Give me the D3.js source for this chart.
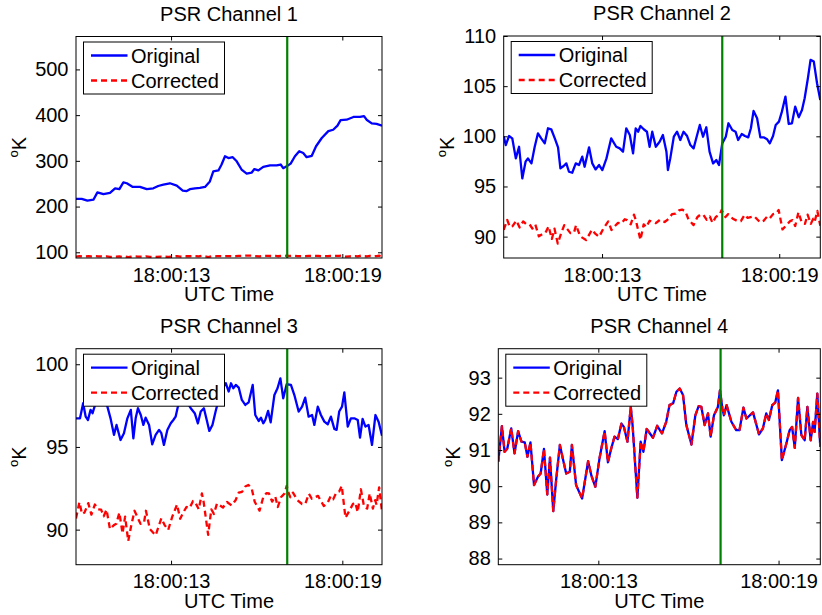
<!DOCTYPE html>
<html>
<head>
<meta charset="utf-8">
<script src="https://cdn.jsdelivr.net/npm/d3@7"></script>
<style>
  body { margin: 0; background: #fff; }
  svg { display: block; font-family: "Liberation Sans", Arial, Helvetica, sans-serif; }
</style>
</head>
<body>
<svg width="822" height="615"></svg>
<script>
// seconds after 18:00:00 UTC, brightness temperature in K
const titles = ["PSR Channel 1", "PSR Channel 2", "PSR Channel 3", "PSR Channel 4"];
const timeRange = [9.67, 20.39];
const timeTicks = [13, 19];
const markerTime = 17.07;
const yDomains = [[87.5, 572], [87.87, 110], [87.88, 100.94], [87.83, 93.8]];
const yTicks = [
  [100, 200, 300, 400, 500],
  [90, 95, 100, 105, 110],
  [90, 95, 100],
  [88, 89, 90, 91, 92, 93]
];

const ch1Original = [
  [9.67, 217], [9.87, 217], [10.07, 213], [10.28, 215], [10.42, 231], [10.63, 227],
  [10.86, 230], [11.04, 240], [11.19, 238], [11.33, 253], [11.45, 251], [11.66, 243],
  [11.91, 243], [12.15, 238], [12.38, 240], [12.55, 245], [12.73, 248], [12.96, 251],
  [13.2, 246], [13.41, 235], [13.55, 234], [13.66, 238], [13.84, 240], [14.01, 241],
  [14.19, 243], [14.36, 255], [14.48, 277], [14.66, 279], [14.77, 292], [14.89, 310],
  [15.01, 306], [15.16, 308], [15.3, 299], [15.47, 281], [15.65, 272], [15.82, 274],
  [15.92, 282], [16.06, 279], [16.23, 287], [16.47, 290], [16.7, 290], [16.84, 292],
  [16.93, 284], [17.05, 288], [17.19, 294], [17.34, 310], [17.49, 321], [17.63, 317],
  [17.75, 308], [17.93, 311], [18.08, 332], [18.28, 350], [18.51, 365], [18.68, 368],
  [18.83, 377], [18.94, 389], [19.15, 390], [19.39, 396], [19.62, 396], [19.76, 398],
  [19.85, 390], [20.03, 382], [20.2, 381], [20.39, 377]
];

const ch2Original = [
  [9.67, 100.0], [9.74, 99.13], [9.85, 100.03], [9.96, 99.8], [10.08, 97.8], [10.19, 98.96],
  [10.3, 95.8], [10.41, 97.47], [10.49, 97.8], [10.61, 97.3], [10.72, 98.96], [10.83, 100.3],
  [10.94, 99.8], [11.06, 99.3], [11.17, 100.8], [11.28, 100.7], [11.4, 99.8], [11.51, 98.9],
  [11.59, 96.8], [11.7, 97.04], [11.79, 97.3], [11.88, 96.47], [11.99, 96.37], [12.11, 97.3],
  [12.22, 97.14], [12.33, 97.97], [12.41, 96.97], [12.56, 98.9], [12.67, 97.3], [12.78, 96.7],
  [12.9, 97.14], [13.01, 96.64], [13.15, 97.8], [13.31, 99.8], [13.48, 98.96], [13.6, 98.8],
  [13.71, 98.47], [13.82, 100.8], [13.94, 100.13], [14.05, 98.3], [14.14, 100.8], [14.22, 100.46],
  [14.3, 101.03], [14.41, 100.7], [14.52, 100.46], [14.61, 98.96], [14.7, 100.46], [14.82, 98.96],
  [14.95, 99.46], [15.06, 100.13], [15.18, 98.47], [15.23, 96.64], [15.31, 97.8], [15.43, 99.96],
  [15.54, 100.46], [15.65, 99.63], [15.76, 100.46], [15.88, 100.03], [15.99, 99.13], [16.1, 98.8],
  [16.19, 99.8], [16.31, 101.13], [16.42, 99.96], [16.53, 100.9], [16.64, 98.47], [16.76, 97.3],
  [16.87, 97.63], [16.96, 97.14], [17.07, 99.3], [17.19, 99.96], [17.28, 101.3], [17.41, 100.63],
  [17.52, 100.46], [17.61, 99.63], [17.73, 100.23], [17.84, 100.03], [17.95, 99.9], [18.04, 100.8],
  [18.13, 102.53], [18.25, 101.8], [18.36, 99.9], [18.47, 99.9], [18.59, 99.7], [18.68, 99.3],
  [18.79, 100.03], [18.88, 101.13], [18.99, 101.46], [19.09, 102.46], [19.21, 103.96], [19.32, 101.23],
  [19.43, 101.3], [19.54, 102.96], [19.66, 101.9], [19.77, 102.63], [19.86, 103.79], [19.97, 105.79],
  [20.06, 107.62], [20.17, 107.45], [20.28, 105.29], [20.39, 103.62]
];

const ch3Original = [
  [9.67, 96.73], [9.81, 96.73], [9.92, 97.64], [10.01, 96.83], [10.09, 96.63], [10.18, 97.24],
  [10.25, 97.04], [10.32, 97.44], [10.44, 98.14], [10.59, 97.94], [10.77, 97.44], [10.88, 96.73],
  [11.0, 95.73], [11.09, 96.33], [11.23, 95.42], [11.35, 95.83], [11.47, 96.73], [11.59, 97.24],
  [11.68, 95.52], [11.76, 96.73], [11.84, 97.34], [11.94, 96.93], [12.03, 96.33], [12.11, 96.77],
  [12.23, 96.33], [12.34, 95.16], [12.46, 95.73], [12.58, 96.03], [12.66, 95.83], [12.75, 95.12],
  [12.87, 96.03], [12.99, 96.43], [13.08, 96.63], [13.16, 96.83], [13.24, 97.44], [13.36, 97.94],
  [13.51, 97.84], [13.69, 97.34], [13.83, 97.04], [13.94, 96.43], [14.04, 97.14], [14.15, 97.34],
  [14.25, 96.63], [14.34, 95.97], [14.45, 96.33], [14.56, 97.14], [14.68, 97.94], [14.8, 98.55],
  [14.92, 98.85], [15.02, 98.35], [15.1, 98.85], [15.18, 98.55], [15.27, 98.75], [15.37, 98.59],
  [15.48, 97.84], [15.6, 97.54], [15.72, 97.7], [15.86, 98.75], [15.95, 96.93], [16.07, 96.57],
  [16.15, 96.77], [16.23, 96.43], [16.3, 96.63], [16.4, 97.18], [16.49, 96.49], [16.62, 98.14],
  [16.73, 98.55], [16.83, 99.15], [16.93, 97.94], [17.05, 98.79], [17.2, 98.75], [17.32, 98.14],
  [17.47, 97.14], [17.59, 97.44], [17.7, 97.98], [17.82, 96.83], [17.94, 96.93], [18.02, 96.33],
  [18.14, 97.44], [18.25, 96.93], [18.37, 96.53], [18.49, 96.37], [18.6, 96.83], [18.72, 96.09],
  [18.8, 96.03], [18.89, 97.14], [18.99, 97.44], [19.07, 98.3], [19.19, 96.23], [19.3, 96.73],
  [19.42, 96.73], [19.54, 96.63], [19.62, 95.56], [19.71, 96.69], [19.81, 96.23], [19.92, 96.33],
  [20.04, 95.12], [20.16, 96.93], [20.27, 96.53], [20.39, 95.68]
];

// corrected temperature (same record drawn in every panel)
const corrected = [
  [9.67, 90.68], [9.79, 91.66], [9.88, 90.95], [9.97, 91.04], [10.1, 91.6], [10.21, 90.91],
  [10.33, 91.52], [10.44, 91.23], [10.55, 91.21], [10.64, 90.81], [10.74, 91.21], [10.86, 90.03],
  [10.99, 90.26], [11.08, 90.35], [11.19, 91.03], [11.3, 89.77], [11.39, 90.79], [11.5, 89.31],
  [11.6, 90.21], [11.72, 91.14], [11.83, 90.72], [11.93, 90.35], [12.05, 90.4], [12.12, 91.14],
  [12.26, 90.03], [12.46, 89.66], [12.66, 90.69], [12.77, 90.29], [12.9, 89.98], [13.04, 90.77],
  [13.21, 91.52], [13.32, 90.66], [13.43, 91.04], [13.54, 91.37], [13.65, 91.3], [13.77, 91.73],
  [13.85, 91.64], [13.97, 91.23], [14.08, 92.19], [14.14, 91.69], [14.3, 89.68], [14.41, 91.23],
  [14.5, 90.95], [14.61, 91.58], [14.82, 91.34], [14.96, 91.67], [15.12, 91.46], [15.26, 91.78],
  [15.37, 92.24], [15.49, 92.29], [15.6, 92.61], [15.71, 92.7], [15.82, 92.52], [15.93, 91.69],
  [16.1, 91.15], [16.23, 91.96], [16.34, 92.21], [16.43, 92.19], [16.54, 91.69], [16.65, 92.01],
  [16.74, 91.37], [16.85, 91.96], [16.98, 92.19], [17.05, 92.65], [17.13, 92.15], [17.18, 91.96],
  [17.27, 92.24], [17.43, 91.78], [17.59, 91.55], [17.7, 91.55], [17.83, 92.17], [17.93, 91.87],
  [18.15, 92.04], [18.35, 91.43], [18.48, 91.6], [18.59, 92.01], [18.68, 91.83], [18.79, 92.24],
  [18.89, 92.31], [18.98, 92.65], [19.11, 90.72], [19.26, 91.18], [19.37, 91.55], [19.45, 91.64],
  [19.54, 91.06], [19.65, 92.44], [19.76, 91.41], [19.87, 91.27], [19.96, 92.19], [20.07, 91.27],
  [20.15, 91.78], [20.2, 91.5], [20.29, 92.56], [20.39, 91.09]
];
const ch4Original = corrected;

const originals = [ch1Original, ch2Original, ch3Original, ch4Original];

const fontSize = 20;
const tickLen = 4;
const svg = d3.select("svg");

// axes boxes in page pixels
const boxes = [
  { left: 76, top: 36.5, right: 382, bottom: 258 },
  { left: 503.7, top: 36, right: 820.3, bottom: 258 },
  { left: 76, top: 348.7, right: 382, bottom: 564.7 },
  { left: 498.3, top: 348.7, right: 820.3, bottom: 564.7 }
];

const base = Date.UTC(2012, 0, 1, 18, 0, 0);
const toDate = (s) => new Date(base + s * 1000);
const fmtTime = d3.utcFormat("%H:%M:%S");

boxes.forEach((b, i) => {
  const w = b.right - b.left;
  const h = b.bottom - b.top;
  const x = d3.scaleUtc().domain(timeRange.map(toDate)).range([0, w]);
  const y = d3.scaleLinear().domain(yDomains[i]).range([h, 0]);

  const g = svg.append("g").attr("transform", `translate(${b.left},${b.top})`);

  g.append("clipPath")
    .attr("id", "clip" + i)
    .append("rect")
    .attr("width", w)
    .attr("height", h);

  const line = d3
    .line()
    .x((d) => x(toDate(d[0])))
    .y((d) => y(d[1]));

  const plot = g.append("g").attr("clip-path", `url(#clip${i})`);

  plot
    .append("path")
    .datum(originals[i])
    .attr("d", line)
    .attr("fill", "none")
    .attr("stroke", "#0000ff")
    .attr("stroke-width", 2.3)
    .attr("stroke-linejoin", "round");

  plot
    .append("path")
    .datum(corrected)
    .attr("d", line)
    .attr("fill", "none")
    .attr("stroke", "#ff0000")
    .attr("stroke-width", 2.3)
    .attr("stroke-dasharray", "6,4")
    .attr("stroke-linejoin", "round");

  plot
    .append("line")
    .attr("x1", x(toDate(markerTime)))
    .attr("x2", x(toDate(markerTime)))
    .attr("y1", 0)
    .attr("y2", h)
    .attr("stroke", "#008000")
    .attr("stroke-width", 2.2);

  // axes, ticks pointing inwards and mirrored on the far sides
  const xVals = timeTicks.map(toDate);

  const xAxis = g
    .append("g")
    .attr("transform", `translate(0,${h})`)
    .call(d3.axisBottom(x).tickValues(xVals).tickFormat(fmtTime).tickSize(-tickLen).tickSizeOuter(0));
  xAxis.selectAll("text").attr("dy", null).attr("y", 23.7);

  g.append("g")
    .call(d3.axisTop(x).tickValues(xVals).tickFormat("").tickSize(-tickLen).tickSizeOuter(0));

  const yAxis = g
    .append("g")
    .call(
      d3.axisLeft(y)
        .tickValues(yTicks[i])
        .tickFormat(d3.format("d"))
        .tickSize(-tickLen)
        .tickSizeOuter(0)
        .tickPadding(7.5)
    );

  g.append("g")
    .attr("transform", `translate(${w},0)`)
    .call(d3.axisRight(y).tickValues(yTicks[i]).tickFormat("").tickSize(-tickLen).tickSizeOuter(0));

  g.selectAll(".domain").remove();
  g.selectAll(".tick line").attr("stroke", "#000").attr("stroke-width", 1);
  g.selectAll(".tick text")
    .attr("fill", "#000")
    .attr("font-size", fontSize)
    .attr("font-family", "Liberation Sans, Arial, Helvetica, sans-serif");

  g.append("rect")
    .attr("width", w)
    .attr("height", h)
    .attr("fill", "none")
    .attr("stroke", "#000")
    .attr("stroke-width", 1);

  // title and labels
  g.append("text")
    .attr("x", w / 2)
    .attr("y", -16)
    .attr("text-anchor", "middle")
    .attr("font-size", fontSize)
    .text(titles[i]);

  g.append("text")
    .attr("x", w / 2)
    .attr("y", h + 43)
    .attr("text-anchor", "middle")
    .attr("font-size", fontSize)
    .text("UTC Time");

  let labelW = 0;
  yAxis.selectAll("text").each(function () {
    labelW = Math.max(labelW, this.getBBox().width);
  });
  const yl = g
    .append("text")
    .attr("transform", `translate(${-(7.5 + labelW + 9)},${h / 2}) rotate(-90)`)
    .attr("text-anchor", "middle")
    .attr("font-size", fontSize);
  yl.append("tspan").attr("font-size", 13).attr("dy", -8).text("o");
  yl.append("tspan").attr("dy", 8).text("K");

  // legend
  const lg = g.append("g").attr("transform", "translate(7.5,5.5)");
  lg.append("rect")
    .attr("width", 141)
    .attr("height", 52)
    .attr("fill", "#fff")
    .attr("stroke", "#000")
    .attr("stroke-width", 1);
  const entries = [
    { name: "Original", color: "#0000ff", dash: null },
    { name: "Corrected", color: "#ff0000", dash: "6,4" }
  ];
  entries.forEach((e, k) => {
    const cy = 13.5 + k * 25;
    lg.append("line")
      .attr("x1", 7.5)
      .attr("x2", 44)
      .attr("y1", cy)
      .attr("y2", cy)
      .attr("stroke", e.color)
      .attr("stroke-width", 2.3)
      .attr("stroke-dasharray", e.dash);
    lg.append("text")
      .attr("x", 47.5)
      .attr("y", cy + 7)
      .attr("font-size", fontSize)
      .text(e.name);
  });
});
</script>
</body>
</html>
